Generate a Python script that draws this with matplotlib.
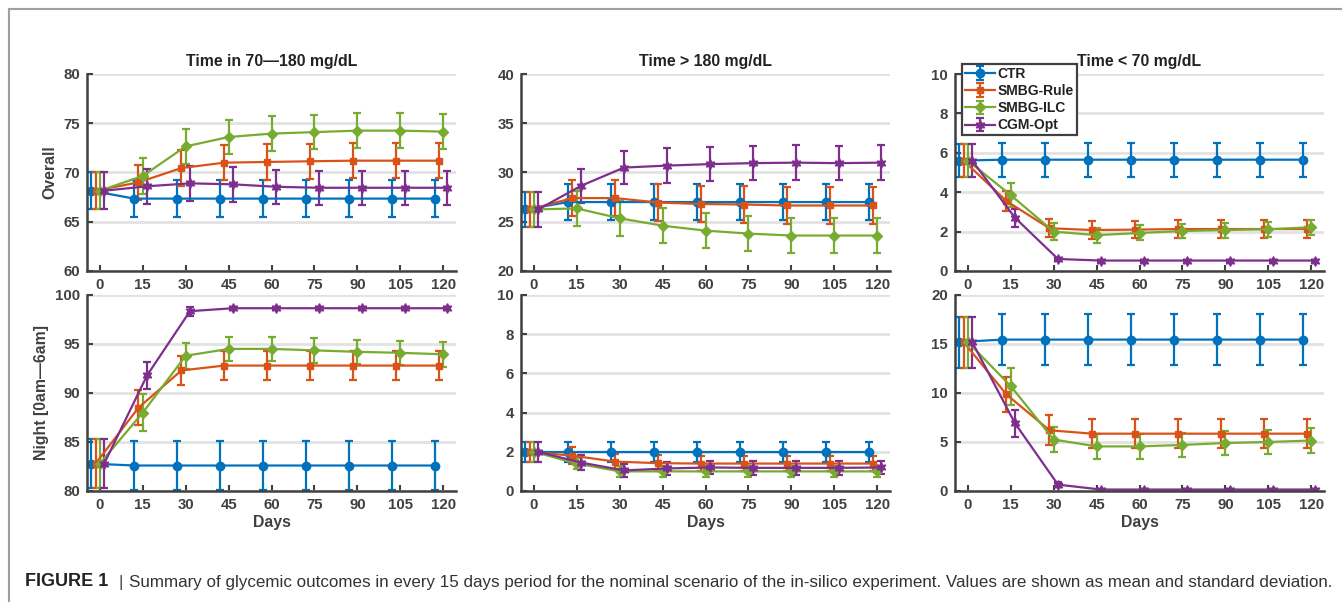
import matplotlib
matplotlib.use("Agg")
import matplotlib.pyplot as plt
from matplotlib.lines import Line2D

plt.rcParams["font.family"] = ["Liberation Sans", "DejaVu Sans"]

# ---- data (mean / std per series) ----
days = [0, 15, 30, 45, 60, 75, 90, 105, 120]
series = ["CTR", "SMBG-Rule", "SMBG-ILC", "CGM-Opt"]

tir_overall_mean = [
    [68.15, 67.35, 67.35, 67.35, 67.35, 67.35, 67.35, 67.35, 67.35],
    [68.15, 69.0, 70.45, 71.0, 71.07, 71.14, 71.2, 71.2, 71.2],
    [68.15, 69.65, 72.65, 73.6, 73.95, 74.1, 74.25, 74.25, 74.15],
    [68.15, 68.6, 68.9, 68.8, 68.55, 68.45, 68.45, 68.45, 68.45],
]
tir_overall_std = [
    [1.85, 1.85, 1.85, 1.85, 1.85, 1.85, 1.85, 1.85, 1.85],
    [1.85, 1.8, 1.8, 1.8, 1.8, 1.8, 1.8, 1.8, 1.8],
    [1.85, 1.8, 1.75, 1.75, 1.75, 1.75, 1.75, 1.75, 1.75],
    [1.85, 1.75, 1.75, 1.75, 1.75, 1.75, 1.75, 1.75, 1.75],
]
tir_night_mean = [
    [82.8, 82.6, 82.6, 82.6, 82.6, 82.6, 82.6, 82.6, 82.6],
    [82.8, 88.5, 92.3, 92.8, 92.8, 92.8, 92.8, 92.8, 92.8],
    [82.8, 88.0, 93.8, 94.5, 94.5, 94.35, 94.2, 94.1, 93.95],
    [82.8, 91.8, 98.35, 98.65, 98.65, 98.65, 98.65, 98.65, 98.65],
]
tir_night_std = [
    [2.5, 2.5, 2.5, 2.5, 2.5, 2.5, 2.5, 2.5, 2.5],
    [2.5, 1.8, 1.5, 1.5, 1.5, 1.5, 1.5, 1.5, 1.5],
    [2.5, 1.9, 1.35, 1.25, 1.25, 1.25, 1.25, 1.25, 1.25],
    [2.5, 1.4, 0.45, 0.1, 0.1, 0.1, 0.1, 0.1, 0.1],
]
hyper_overall_mean = [
    [26.25, 27.0, 27.0, 27.0, 27.0, 27.0, 27.0, 27.0, 27.0],
    [26.25, 27.4, 27.4, 26.95, 26.8, 26.75, 26.65, 26.65, 26.65],
    [26.25, 26.35, 25.35, 24.6, 24.1, 23.8, 23.6, 23.6, 23.6],
    [26.25, 28.65, 30.5, 30.7, 30.85, 30.95, 31.0, 30.95, 31.0],
]
hyper_overall_std = [
    [1.8, 1.8, 1.8, 1.8, 1.8, 1.8, 1.8, 1.8, 1.8],
    [1.8, 1.85, 1.85, 1.85, 1.85, 1.85, 1.85, 1.85, 1.85],
    [1.8, 1.8, 1.8, 1.8, 1.8, 1.8, 1.8, 1.8, 1.8],
    [1.8, 1.75, 1.7, 1.75, 1.75, 1.75, 1.75, 1.75, 1.75],
]
hyper_night_mean = [
    [2.0, 2.0, 2.0, 2.0, 2.0, 2.0, 2.0, 2.0, 2.0],
    [2.0, 1.8, 1.5, 1.42, 1.4, 1.4, 1.4, 1.4, 1.4],
    [2.0, 1.4, 1.0, 1.0, 1.0, 1.0, 1.0, 1.0, 1.0],
    [2.0, 1.45, 1.05, 1.15, 1.2, 1.18, 1.18, 1.18, 1.2],
]
hyper_night_std = [
    [0.5, 0.5, 0.5, 0.5, 0.5, 0.5, 0.5, 0.5, 0.5],
    [0.5, 0.42, 0.4, 0.4, 0.4, 0.4, 0.4, 0.4, 0.4],
    [0.5, 0.3, 0.3, 0.3, 0.3, 0.3, 0.3, 0.3, 0.3],
    [0.5, 0.38, 0.35, 0.35, 0.35, 0.35, 0.35, 0.35, 0.35],
]
hypo_overall_mean = [
    [5.6, 5.65, 5.65, 5.65, 5.65, 5.65, 5.65, 5.65, 5.65],
    [5.6, 3.55, 2.17, 2.08, 2.1, 2.13, 2.13, 2.13, 2.13],
    [5.6, 3.85, 2.0, 1.82, 1.93, 2.03, 2.08, 2.12, 2.22],
    [5.6, 2.7, 0.61, 0.53, 0.53, 0.53, 0.53, 0.53, 0.53],
]
hypo_overall_std = [
    [0.85, 0.87, 0.87, 0.87, 0.87, 0.87, 0.87, 0.87, 0.87],
    [0.85, 0.5, 0.45, 0.45, 0.45, 0.45, 0.45, 0.45, 0.45],
    [0.85, 0.6, 0.42, 0.38, 0.38, 0.38, 0.38, 0.38, 0.38],
    [0.85, 0.45, 0.07, 0.05, 0.05, 0.05, 0.05, 0.05, 0.05],
]
hypo_night_mean = [
    [15.2, 15.45, 15.45, 15.45, 15.45, 15.45, 15.45, 15.45, 15.45],
    [15.2, 9.85, 6.2, 5.85, 5.85, 5.85, 5.85, 5.85, 5.85],
    [15.2, 10.7, 5.25, 4.55, 4.55, 4.7, 4.9, 5.0, 5.15],
    [15.2, 6.9, 0.65, 0.15, 0.15, 0.15, 0.15, 0.15, 0.15],
]
hypo_night_std = [
    [2.6, 2.6, 2.6, 2.6, 2.6, 2.6, 2.6, 2.6, 2.6],
    [2.6, 1.8, 1.55, 1.5, 1.5, 1.5, 1.5, 1.5, 1.5],
    [2.6, 1.9, 1.3, 1.25, 1.25, 1.25, 1.25, 1.25, 1.25],
    [2.6, 1.35, 0.25, 0.1, 0.1, 0.1, 0.1, 0.1, 0.1],
]

titles = ["Time in 70\u2014180 mg/dL", "Time > 180 mg/dL", "Time < 70 mg/dL"]
row_labels = ["Overall", "Night [0am\u20146am]"]
caption = ("Summary of glycemic outcomes in every 15 days period for the nominal scenario "
           "of the in-silico experiment. Values are shown as mean and standard deviation.")

# ---- style ----
colors = ["#0072BD", "#D95319", "#77AC30", "#7E2F8E"]
markers = ["o", "s", "D", (6, 1, 0)]
msizes = [6, 5, 5, 7]
offsets = [-3, -1.5, 0, 1.5]
dark = "#404040"

panels = [
    [(tir_overall_mean, tir_overall_std, (60, 80), 5),
     (hyper_overall_mean, hyper_overall_std, (20, 40), 5),
     (hypo_overall_mean, hypo_overall_std, (0, 10), 2)],
    [(tir_night_mean, tir_night_std, (80, 100), 5),
     (hyper_night_mean, hyper_night_std, (0, 10), 2),
     (hypo_night_mean, hypo_night_std, (0, 20), 5)],
]

W, H = 1342, 602
fig = plt.figure(figsize=(W / 100, H / 100), dpi=100)

col_x = [87, 521, 955]
ax_w = 369
row_y = [(74, 271), (295, 491)]

for r in range(2):
    for c in range(3):
        mean, std, ylim, step = panels[r][c]
        top, bot = row_y[r]
        ax = fig.add_axes([col_x[c] / W, 1 - bot / H, ax_w / W, (bot - top) / H])
        handles = []
        for i in range(4):
            xs = [d + offsets[i] for d in days]
            h = ax.errorbar(xs, mean[i], yerr=std[i], color=colors[i], marker=markers[i],
                            ms=msizes[i], lw=1.6, elinewidth=1.6, capsize=3, capthick=1.6,
                            label=series[i])
            handles.append(h)
        ax.set_xlim(-4.5, 124.5)
        ax.set_ylim(*ylim)
        ax.set_xticks(days)
        ax.set_yticks(range(ylim[0], ylim[1] + 1, step))
        ax.set_axisbelow(True)
        ax.grid(axis="y", color="#e2e2e2", lw=2)
        for s in ["top", "right"]:
            ax.spines[s].set_visible(False)
        for s in ["left", "bottom"]:
            ax.spines[s].set_color(dark)
            ax.spines[s].set_linewidth(1.8)
        ax.tick_params(direction="in", length=4, width=1.5, color=dark,
                       labelcolor=dark, labelsize=10.8, pad=5)
        for lab in ax.get_xticklabels() + ax.get_yticklabels():
            lab.set_fontweight("bold")
        if r == 0:
            ax.set_title(titles[c], fontsize=11.4, fontweight="bold", color="#222222", pad=6)
        else:
            ax.set_xlabel("Days", fontsize=11.4, fontweight="bold", color=dark, labelpad=2)
        if c == 0:
            ax.set_ylabel(row_labels[r], fontsize=11.4, fontweight="bold", color=dark, labelpad=4)
        if r == 0 and c == 2:
            leg = ax.legend(handles=handles, loc="upper left", bbox_to_anchor=(0.02, 1.05),
                            fancybox=False, framealpha=1, edgecolor=dark, fontsize=10,
                            handlelength=2.1, labelspacing=0.22, borderpad=0.22,
                            handletextpad=0.2, borderaxespad=0)
            leg.get_frame().set_linewidth(1.6)
            for t in leg.get_texts():
                t.set_fontweight("bold")
                t.set_color("#222222")

# frame around the figure
fig.add_artist(Line2D([9 / W, 1], [1 - 8.5 / H, 1 - 8.5 / H], color="#a0a0a0", lw=1.5))
fig.add_artist(Line2D([9 / W, 9 / W], [0, 1 - 8.5 / H], color="#a0a0a0", lw=1.5))

# caption
cy = 1 - 582 / H
fig.text(25 / W, cy, "FIGURE 1", fontsize=13, fontweight="bold", color="#222222", va="center")
fig.text(119 / W, cy, "|", fontsize=12, color="#444444", va="center")
fig.text(129 / W, cy, caption, fontsize=12.25, color="#333333", va="center")

fig.savefig("out.png", dpi=100)
